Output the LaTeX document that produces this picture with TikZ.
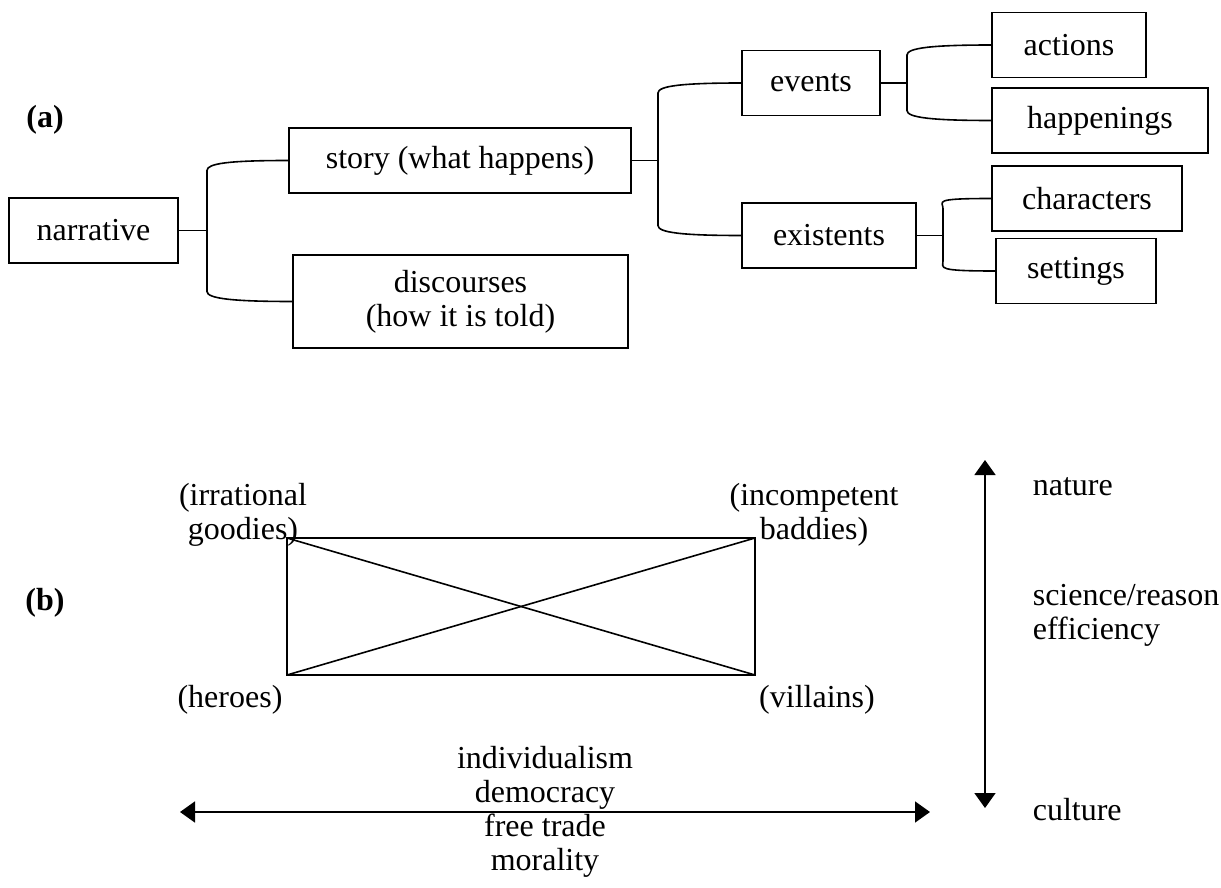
\documentclass[tikz,border=0pt]{standalone}
\usepackage{fontspec}
\setmainfont{Liberation Serif}
\usetikzlibrary{arrows.meta}
\tikzset{
 box/.style={draw, minimum height=32.5pt, inner sep=0pt, font=\fontsize{16}{17}\selectfont},
 lbl/.style={inner sep=0pt, align=center, font=\fontsize{16}{17}\selectfont},
 axis/.style={{Triangle[width=10.5pt,length=7.5pt]}-{Triangle[width=10.5pt,length=7.5pt]}}
}
\begin{document}
\begin{tikzpicture}[x=0.5pt, y=-0.5pt, line width=0.8pt]
\useasboundingbox (0,0) rectangle (1221,888);
% (a) tree
\node[lbl, font=\fontsize{16}{17}\selectfont\bfseries] (a-lbl) at (45,120) {(a)};
\node[box, minimum width=84.5pt] (narrative) at (93.5,230.5) {narrative};
\node[box, minimum width=171pt] (story) at (460,160.5) {story (what happens)};
\node[box, minimum width=167.5pt, minimum height=46.5pt, align=center] (discourses) at (460.5,301.5) {discourses\\(how it is told)};
\node[box, minimum width=69pt] (events) at (811,83) {events};
\node[box, minimum width=87pt] (existents) at (829,235.5) {existents};
\node[box, minimum width=77pt] (actions) at (1069,45) {actions};
\node[box, minimum width=108pt] (happenings) at (1100,120.5) {happenings};
\node[box, minimum width=95pt] (characters) at (1087,198.5) {characters};
\node[box, minimum width=80pt] (settings) at (1076,271) {settings};
\foreach \parent/\first/\second/\xpos in {narrative/story/discourses/207, story/events/existents/658,
  events/actions/happenings/907, existents/characters/settings/943}{
 \draw (\parent.east) -- (\parent.east -| \xpos,0); % stem
 \path (\first.west -| \xpos,0) ++(0,10) coordinate (\first-c);
 \path (\second.west -| \xpos,0) ++(0,-10) coordinate (\second-c);
 \draw (\first.west) .. controls +(-60,0) and +(0,-7) .. (\first-c) -- (\second-c)
   .. controls +(0,7) and +(-60,0) .. (\second.west); % bracket
}
% (b) square
\node[lbl, font=\fontsize{16}{17}\selectfont\bfseries] (b-lbl) at (45,603) {(b)};
\coordinate (goodies) at (287,538);
\coordinate (baddies) at (755,538);
\coordinate (heroes) at (287,675);
\coordinate (villains) at (755,675);
\draw (goodies) rectangle (villains);
\draw (goodies) -- (villains);
\draw (heroes) -- (baddies);
\node[lbl] (goodies-lbl) at (243,515) {(irrational\\goodies)};
\node[lbl] (baddies-lbl) at (814,515) {(incompetent\\baddies)};
\node[lbl] (heroes-lbl) at (230,700) {(heroes)};
\node[lbl] (villains-lbl) at (817,700) {(villains)};
% axes
\coordinate (top) at (985,460);
\coordinate (bottom) at (985,808);
\draw[axis] (top) -- (bottom);
\node[lbl, anchor=west] (nature) at (1032,487) {nature};
\node[lbl, anchor=west, align=left] (science) at (1032,615) {science/reason\\efficiency};
\node[lbl, anchor=west] (culture) at (1032,810) {culture};
\coordinate (left) at (180,812);
\coordinate (right) at (930,812);
\draw[axis] (left) -- (right);
\node[lbl] (values) at (545,812) {individualism\\democracy\\free trade\\morality};
\end{tikzpicture}
\end{document}
